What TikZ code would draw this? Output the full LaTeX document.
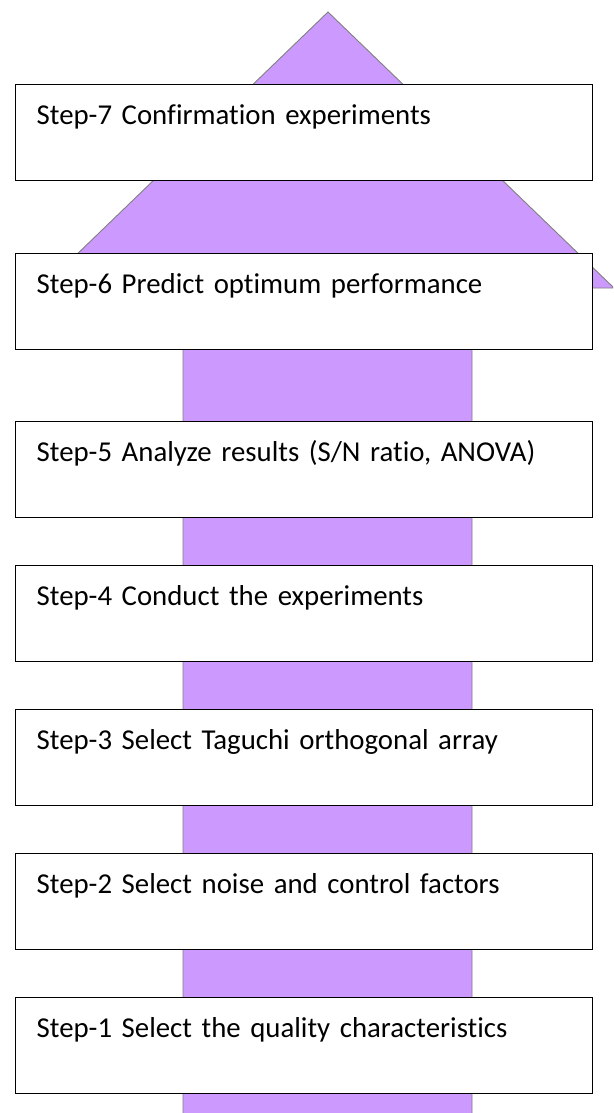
\documentclass[tikz,border=0pt]{standalone}
\usepackage{fontspec}
\setmainfont{Carlito}[WordSpace=0.85,Ligatures=NoCommon]
\begin{document}
\begin{tikzpicture}[x=1pt,y=-1pt,
  stepbox/.style={draw=black,line width=1.4pt,fill=white,anchor=north west,
    minimum width=577pt,text width=535pt,inner xsep=21pt,inner ysep=0pt,
    text height=40pt,text depth=56pt,align=left,
    font=\fontsize{28.8}{34}\selectfont},
  bigarrow/.style={fill=arrowfill,draw=arrowline,line width=0.9pt}]
\definecolor{arrowfill}{RGB}{204,153,255}
\definecolor{arrowline}{RGB}{128,128,128}
\useasboundingbox (0,0) rectangle (613,1113);
\clip (0,0) rectangle (613,1113);
% upward block arrow behind the steps
\coordinate (tip) at (328,12);
\draw[bigarrow] (183,1125) -- (183,288) -- (42,288) -- (tip) -- (614,288)
  -- (472,288) -- (472,1125);
% process steps, bottom to top
\node[stepbox] (s7) at (15,84)  {Step-7 Confirmation experiments};
\node[stepbox] (s6) at (15,253) {Step-6 Predict optimum performance};
\node[stepbox] (s5) at (15,421) {Step-5 Analyze results (S/N ratio, ANOVA)};
\node[stepbox] (s4) at (15,565) {Step-4 Conduct the experiments};
\node[stepbox] (s3) at (15,709) {Step-3 Select Taguchi orthogonal array};
\node[stepbox] (s2) at (15,853) {Step-2 Select noise and control factors};
\node[stepbox] (s1) at (15,997) {Step-1 Select the quality characteristics};
\end{tikzpicture}
\end{document}
